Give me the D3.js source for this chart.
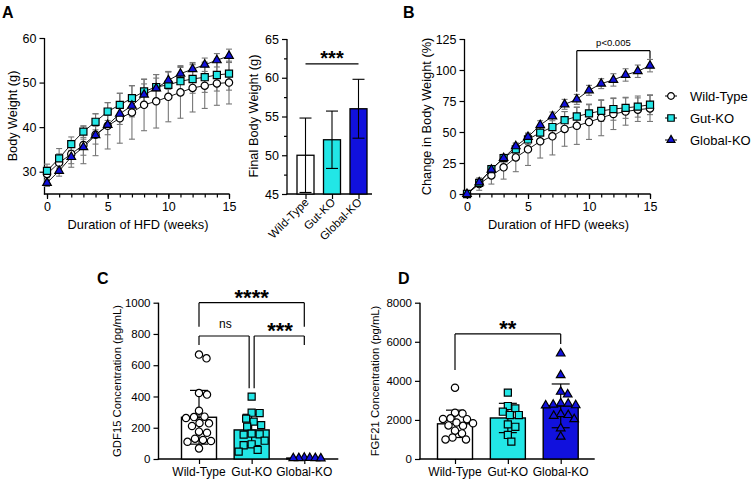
<!DOCTYPE html>
<html><head><meta charset="utf-8">
<script src="https://cdn.jsdelivr.net/npm/d3@7"></script>
<style>body{margin:0;background:#fff} svg{display:block} text{font-family:"Liberation Sans",Arial,sans-serif;fill:#000}</style>
</head><body><svg id="c" width="752" height="483"></svg>
<script>
// ---------------- DATA ----------------
const groups = ["Wild-Type","Gut-KO","Global-KO"];
const weeks = [0,1,2,3,4,5,6,7,8,9,10,11,12,13,14,15];
// Panel A: body weight (g)
const bwWT     = [29.5,32,34,36,38.3,40.3,42,43.3,45,45.8,46.8,47.8,48.8,49.3,49.8,50];
const bwGut    = [30.2,33,36.2,39,41.2,43.5,45,46.5,48,49,49.5,50.3,50.8,51.2,51.7,52];
const bwGlobal = [27.5,30.2,33.3,35.5,38.2,40.5,43,44.8,47.3,48.7,50.5,52,53,54,55,56];
const bwErrWT     = [1.5,2,3,4.2,4.7,5.2,5.6,6,5.8,6,5.6,5.8,5.4,5.1,4.9,4.8];
const bwErrGut    = [1.5,2.2,1.6,1.3,1.8,2,2.6,2.8,2.7,2.8,2.9,3.1,3.2,3.4,3.6,3.7];
const bwErrGlobal = [0.8,1.2,1.5,1.8,2,2.2,2.4,2.5,2.4,2.3,2,1.8,1.5,1.5,1.5,1.5];
// Panel A inset: final body weight
const finalMean = [50,52,56];
const finalSD   = [4.8,3.7,3.8];
// Panel B: change in body weight (%)
const pctWT     = [0,8,15,21.5,29.5,36,42.5,46.5,52.5,55,58,61.5,64.5,66.5,68,69];
const pctGut    = [0,9,20,29,36,44,49.5,54,59.5,62.5,65,67,68.5,69.5,70.5,72];
const pctGlobal = [0,9.4,19.6,29,38.5,46,55.6,62.6,72.3,76.3,83.6,89,92,96,99,103.5];
const pctErrWT     = [0,5,7,9.5,11.5,13,13.5,15,14,15,14,14.5,12.5,11,9.5,10.5];
const pctErrGut    = [0,3,3,3,4,4,6,7,7,7.5,7.5,8.5,9,8.5,8.5,8];
const pctErrGlobal = [0,2,2,2,2.5,3,3.5,3.5,4,4,4,4,5,5,5,5];
// Panel C: GDF15 (pg/mL)
const gdfWT     = [668,644,422,412,309,271,268,262,230,228,211,175,168,130,122,115,110,68];
const gdfGut    = [399,296,294,258,239,217,207,162,158,156,117,94,88,58,47];
const gdfGlobal = [8,6,5,4,6,7];
const gdfMean = [267,186,6];
const gdfSD   = [172,100,3];
// Panel D: FGF21 (pg/mL)
const fgfWT     = [3650,2370,2330,2080,2050,2040,1870,1830,1720,1700,1450,1310,1100,1000,1000];
const fgfGut    = [3400,2710,2590,2420,2250,2250,1770,1650,1230,890];
const fgfGlobal = [5400,4290,3440,3300,2850,2780,2750,2740,2830,2300,2250,2210,2040,1570,1140];
const fgfMean = [1800,2100,2720];
const fgfSD   = [700,750,1120];
// tick values
const bwTicks = [30,40,50,60];
const finalTicks = [45,50,55,60,65];
const pctTicks = [0,25,50,75,100,125];
const weekTicks = [0,5,10,15];
const gdfTicks = [0,200,400,600,800,1000];
const fgfTicks = [0,2000,4000,6000,8000];

// ---------------- STYLE ----------------
const CYAN = "#22e6e6", BLUE = "#1111dd";
const fillOf = {"Wild-Type":"#ffffff","Gut-KO":CYAN,"Global-KO":BLUE};
const symOf = {"Wild-Type":d3.symbolCircle,"Gut-KO":d3.symbolSquare,"Global-KO":d3.symbolTriangle};
const sizeOf = {"Wild-Type":42,"Gut-KO":50,"Global-KO":32};
const svg = d3.select("#c");
svg.append("rect").attr("width",752).attr("height",483).attr("fill","#fff");

function marker(g, grp, x, y, scale=1){
  g.append("path").attr("d", d3.symbol(symOf[grp], sizeOf[grp]*scale)())
   .attr("transform", `translate(${x},${y})`)
   .attr("fill", fillOf[grp]).attr("stroke","#000").attr("stroke-width",1.2);
}
function line(g,x1,y1,x2,y2,w=1.2,c="#000"){
  g.append("line").attr("x1",x1).attr("y1",y1).attr("x2",x2).attr("y2",y2)
   .attr("stroke",c).attr("stroke-width",w);
}
function txt(g,x,y,s,size,anchor="middle",weight="normal"){
  return g.append("text").attr("x",x).attr("y",y).attr("font-size",size)
   .attr("text-anchor",anchor).attr("font-weight",weight).text(s);
}
function styleAxis(a, fs){
  a.select(".domain").remove();
  a.selectAll(".tick line").attr("stroke","#000").attr("stroke-width",1.2);
  a.selectAll(".tick text").attr("font-size",fs).attr("fill","#000")
   .attr("font-family",'"Liberation Sans",Arial,sans-serif');
}
function stars(g, cx, cy, s, fs){
  txt(g, cx, cy + 0.58*fs, s, fs, "middle", "bold");
}

// panel labels
txt(svg,2,18,"A",16,"start","bold");
txt(svg,403,18,"B",16,"start","bold");
txt(svg,97,284,"C",16,"start","bold");
txt(svg,398,284,"D",16,"start","bold");

// ---------------- LINE CHARTS (A, B) ----------------
function lineChart(o){
  const g = svg.append("g");
  const x = d3.scaleLinear().domain([0,15]).range(o.xr);
  const y = d3.scaleLinear().domain(o.yd).range(o.yr);
  const ya = g.append("g").attr("transform",`translate(${o.ax},0)`)
    .call(d3.axisLeft(y).tickValues(o.yticks).tickSize(5).tickPadding(3));
  styleAxis(ya,12.5);
  line(g,o.ax,o.yr[1],o.ax,o.yr[0]+0.6,1.3);
  const base = o.yr[0];
  const xm = g.append("g").attr("transform",`translate(0,${base})`)
    .call(d3.axisBottom(x).tickValues(weeks).tickSize(3.5).tickFormat(""));
  styleAxis(xm,12.5);
  const xa = g.append("g").attr("transform",`translate(0,${base})`)
    .call(d3.axisBottom(x).tickValues(weekTicks).tickSize(5).tickPadding(3));
  styleAxis(xa,12.5);
  line(g,o.ax-0.6,base,o.xr[1]+0.6,base,1.3);
  txt(g,(o.xr[0]+o.xr[1])/2,base+35,"Duration of HFD (weeks)",12.8);
  g.append("text").attr("transform",`translate(${o.titleX},${(o.yr[0]+o.yr[1])/2}) rotate(-90)`)
   .attr("text-anchor","middle").attr("font-size",o.titleFs).text(o.title);
  o.series.forEach(s=>{
    weeks.forEach((w,i)=>{
      if(s.err[i]<=0) return;
      const cx=x(w), y1=y(s.vals[i]-s.err[i]), y2=y(s.vals[i]+s.err[i]);
      line(g,cx,y1,cx,y2,1.1,"#777");
      line(g,cx-3,y1,cx+3,y1,1.1,"#777");
      line(g,cx-3,y2,cx+3,y2,1.1,"#777");
    });
  });
  o.series.forEach(s=>{
    g.append("path").datum(s.vals)
     .attr("d", d3.line().x((d,i)=>x(weeks[i])).y(d=>y(d)))
     .attr("fill","none").attr("stroke","#000").attr("stroke-width",0.9);
  });
  o.series.forEach(s=>{
    weeks.forEach((w,i)=>marker(g,s.grp,x(w),y(s.vals[i])));
  });
  return {g,x,y};
}

lineChart({xr:[47,229], yd:[25,60], yr:[194,38], ax:44.5, yticks:bwTicks,
  title:"Body Weight (g)", titleX:17, titleFs:12.7,
  series:[{grp:"Wild-Type",vals:bwWT,err:bwErrWT},{grp:"Gut-KO",vals:bwGut,err:bwErrGut},{grp:"Global-KO",vals:bwGlobal,err:bwErrGlobal}]});

const B = lineChart({xr:[467,650], yd:[0,125], yr:[194,39], ax:464.5, yticks:pctTicks,
  title:"Change in Body Weight (%)", titleX:431, titleFs:12.8,
  series:[{grp:"Wild-Type",vals:pctWT,err:pctErrWT},{grp:"Gut-KO",vals:pctGut,err:pctErrGut},{grp:"Global-KO",vals:pctGlobal,err:pctErrGlobal}]});
{
  const g=B.g, x=B.x, y=B.y;
  line(g,x(9),y(115.6),x(15),y(115.6),1.2);
  line(g,x(9),y(115.6),x(9),y(82.5),1.2);
  line(g,x(15),y(115.6),x(15),y(109),1.2);
  txt(g,x(12),46,"p<0.005",9.5);
}
{
  const lg = svg.append("g");
  groups.forEach((grp,i)=>{
    const cy = 96 + i*22;
    line(lg,665,cy,677,cy,1);
    marker(lg,grp,671,cy,0.85);
    txt(lg,690,cy+4.5,grp,13,"start");
  });
}

// ---------------- A inset bar chart ----------------
{
  const g = svg.append("g");
  const x = d3.scalePoint().domain(groups).range([305.5,358.5]);
  const y = d3.scaleLinear().domain([45,65]).range([194,39]);
  const ax = 287;
  const minor = [47.5,52.5,57.5,62.5];
  const ym = g.append("g").attr("transform",`translate(${ax},0)`)
    .call(d3.axisLeft(y).tickValues(minor).tickSize(3).tickFormat(""));
  styleAxis(ym,12.5);
  const ya = g.append("g").attr("transform",`translate(${ax},0)`)
    .call(d3.axisLeft(y).tickValues(finalTicks).tickSize(5).tickPadding(3));
  styleAxis(ya,12.5);
  line(g,ax,39,ax,194.6,1.3);
  line(g,ax-0.6,194,372,194,1.3);
  const xa = g.append("g").attr("transform",`translate(0,194)`)
    .call(d3.axisBottom(x).tickSize(5).tickFormat(""));
  styleAxis(xa,12);
  groups.forEach(grp=>{
    g.append("text").attr("transform",`translate(${x(grp)+4},${203}) rotate(-45)`)
     .attr("text-anchor","end").attr("font-size",11.5).text(grp);
  });
  g.append("text").attr("transform",`translate(258,116) rotate(-90)`)
   .attr("text-anchor","middle").attr("font-size",12.8).text("Final Body Weight (g)");
  const bw=17;
  groups.forEach((grp,i)=>{
    g.append("rect").attr("x",x(grp)-bw/2).attr("y",y(finalMean[i]))
     .attr("width",bw).attr("height",y(45)-y(finalMean[i]))
     .attr("fill",fillOf[grp]).attr("stroke","#000").attr("stroke-width",1.3);
  });
  groups.forEach((grp,i)=>{
    const cx=x(grp), y1=y(finalMean[i]-finalSD[i]), y2=y(finalMean[i]+finalSD[i]);
    line(g,cx,y1,cx,y2,1.1);
    line(g,cx-6,y1,cx+6,y1,1.1);
    line(g,cx-6,y2,cx+6,y2,1.1);
  });
  line(g,x("Wild-Type"),y(61.8),x("Global-KO"),y(61.8),1.2);
  stars(g,(x("Wild-Type")+x("Global-KO"))/2,53.5,"***",20);
}

// ---------------- DOT + BAR charts (C, D) ----------------
function swarm(vals, y, md){
  const pts = vals.map(v=>({v, y:y(v)})).sort((a,b)=>b.v-a.v);
  const placed=[];
  for(const p of pts){
    let off=0;
    for(let k=0;k<400;k++){
      const o = (k%2?1:-1)*Math.ceil(k/2)*0.5;
      if(placed.every(q=>(q.dx-o)**2+(q.y-p.y)**2>=md*md)){off=o;break;}
    }
    p.dx=off; placed.push(p);
  }
  return pts;
}
function dotChart(o){
  const g = svg.append("g");
  const x = d3.scalePoint().domain(groups).range(o.xr);
  const y = d3.scaleLinear().domain(o.yd).range([459,302.7]);
  const ya = g.append("g").attr("transform",`translate(${o.ax},0)`)
    .call(d3.axisLeft(y).tickValues(o.yticks).tickSize(5).tickPadding(3).tickFormat(d3.format("d")));
  styleAxis(ya,11.5);
  line(g,o.ax,302.7,o.ax,459.6,1.4);
  line(g,o.ax-0.7,459,o.xr[1]+34,459,1.4);
  const xa = g.append("g").attr("transform",`translate(0,459)`)
    .call(d3.axisBottom(x).tickSize(5).tickFormat(""));
  styleAxis(xa,12);
  groups.forEach(grp=>txt(g,x(grp),476,grp,12));
  g.append("text").attr("transform",`translate(${o.titleX},381) rotate(-90)`)
   .attr("text-anchor","middle").attr("font-size",11.3).text(o.title);
  const bw=35;
  groups.forEach((grp,i)=>{
    g.append("rect").attr("x",x(grp)-bw/2).attr("y",y(o.mean[i]))
     .attr("width",bw).attr("height",Math.max(0,y(0)-y(o.mean[i])))
     .attr("fill",fillOf[grp]).attr("stroke","#000").attr("stroke-width",1.4);
  });
  groups.forEach((grp,i)=>{
    const cx=x(grp), y1=y(Math.max(0,o.mean[i]-o.sd[i])), y2=y(o.mean[i]+o.sd[i]);
    line(g,cx,y1,cx,y2,1.2);
    line(g,cx-9,y1,cx+9,y1,1.2);
    line(g,cx-9,y2,cx+9,y2,1.2);
  });
  groups.forEach((grp,i)=>{
    swarm(o.points[i],y,o.md[i]).forEach(p=>marker(g,grp,x(grp)+p.dx,p.y));
  });
  return {g,x,y};
}

const C = dotChart({xr:[199,304.3], ax:158.5, yd:[0,1000], yticks:gdfTicks,
  title:"GDF15 Concentration (pg/mL)", titleX:121, md:[8,8,5.5],
  mean:gdfMean, sd:gdfSD, points:[gdfWT,gdfGut,gdfGlobal]});
{
  const g=C.g, x=C.x, y=C.y;
  const xw=x("Wild-Type"), xg=x("Gut-KO"), xk=x("Global-KO");
  line(g,xw,y(1000),xk,y(1000)); line(g,xw,y(1000),xw,y(846)); line(g,xk,y(1000),xk,y(846));
  stars(g,(xw+xk)/2,292.7,"****",22);
  line(g,xw,y(787),xg-2.5,y(787)); line(g,xw,y(787),xw,y(729)); line(g,xg-2.5,y(787),xg-2.5,y(452));
  txt(g,(xw+xg)/2,328,"ns",12);
  line(g,xg+2.5,y(787),xk,y(787)); line(g,xg+2.5,y(787),xg+2.5,y(452)); line(g,xk,y(787),xk,y(729));
  stars(g,(xg+xk)/2+2,325,"***",22);
}

const D = dotChart({xr:[455,560.7], ax:420, yd:[0,8000], yticks:fgfTicks,
  title:"FGF21 Concentration (pg/mL)", titleX:379, md:[7.2,7.5,7.2],
  mean:fgfMean, sd:fgfSD, points:[fgfWT,fgfGut,fgfGlobal]});
{
  const g=D.g, x=D.x, y=D.y;
  const xw=x("Wild-Type"), xk=x("Global-KO");
  line(g,xw,y(6400),xk,y(6400)); line(g,xw,y(6400),xw,y(4560)); line(g,xk,y(6400),xk,y(5880));
  stars(g,(xw+xk)/2,323.3,"**",22);
}
</script></body></html>
